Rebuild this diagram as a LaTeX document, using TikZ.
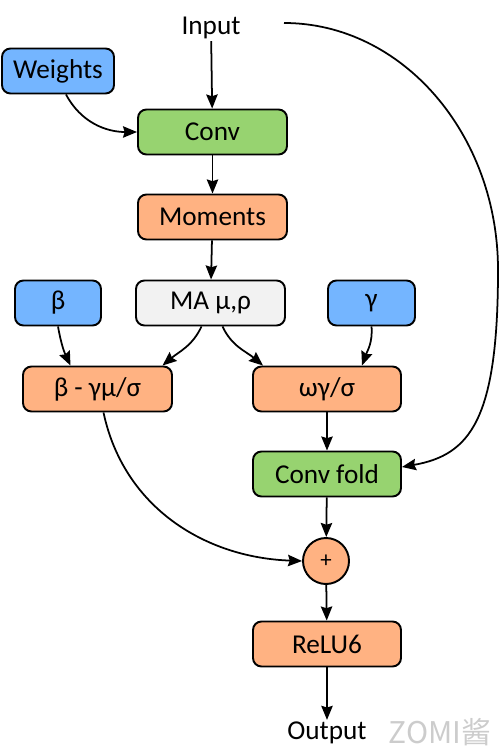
\documentclass[tikz,border=0pt]{standalone}
\usepackage{fontspec}
\setmainfont{Carlito}
\newfontfamily\cjk{Noto Sans CJK SC}
\usetikzlibrary{arrows.meta,calc}

\definecolor{wblue}{RGB}{116,181,255}
\definecolor{cgreen}{RGB}{151,211,112}
\definecolor{mpeach}{RGB}{255,178,130}
\definecolor{mgray}{RGB}{242,242,242}

\begin{document}
\begin{tikzpicture}

\tikzset{
    box/.style={draw,line width=1.1pt,rounded corners=0.17cm,minimum width=#1,
        minimum height=0.9cm,inner sep=0pt,font=\fontsize{15.5}{18}\selectfont},
    box/.default=2.98cm,
    arr/.style={-{Stealth[length=8pt,width=6.5pt,inset=1pt]},line width=1pt},
    lbl/.style={inner sep=1pt,font=\fontsize{15.5}{18}\selectfont}}

\useasboundingbox (0,0) rectangle (10,-15.08);

\node[lbl] (input) at (4.22,-0.56) {Input};
\coordinate (skip) at (5.68,-0.46);
\node[box=2.24cm, fill=wblue] (weights) at (1.16,-1.42) {Weights};
\node[box, fill=cgreen] (conv) at (4.25,-2.64) {Conv};
\node[box, fill=mpeach] (moments) at (4.25,-4.34) {Moments};
\node[box=1.72cm, fill=wblue] (beta) at (1.16,-6.06) {β};
\node[box, fill=mgray] (ma) at (4.21,-6.06) {MA μ,ρ};
\node[box=1.74cm, fill=wblue] (gamma) at (7.43,-6.06) {γ};
\node[box, fill=mpeach] (bias) at (1.95,-7.78) {β - γμ/σ};
\node[box=2.96cm, fill=mpeach] (scale) at (6.54,-7.78) {ωγ/σ};
\node[box=2.96cm, fill=cgreen] (fold) at (6.54,-9.48) {Conv fold};
\node[circle, draw, line width=1.1pt, fill=mpeach, minimum size=0.92cm, inner sep=0pt,
    font=\fontsize{13}{15}\selectfont] (plus) at (6.52,-11.22) {+};
\node[box=2.96cm, fill=mpeach] (relu) at (6.54,-12.88) {ReLU6};
\node[lbl] (output) at (6.54,-14.66) {Output};
\node[text=black!20, font=\cjk\fontsize{17}{20}\selectfont] (mark) at (8.8,-14.64) {ZOMI酱};

\draw[arr] (input) -- (conv);
\draw[arr] ([xshift=0.16cm]weights.south) to[out=-62,in=180] (conv.west);
\draw[arr] (conv) -- (moments);
\draw[arr] (moments) -- (ma);
\draw[arr] (beta.south) to[out=-80,in=115] ([xshift=-0.54cm]bias.north);
\draw[arr] ([xshift=-0.18cm]ma.south) to[out=-115,in=40] ([xshift=1.3cm]bias.north);
\draw[arr] ([xshift=0.24cm]ma.south) to[out=-65,in=140] ([xshift=-1.28cm]scale.north);
\draw[arr] (gamma.south) to[out=-85,in=70] ([xshift=0.7cm]scale.north);
\draw[arr] (scale) -- (fold);
\draw[arr] (skip) .. controls (8.04,-0.46) and (9.96,-2.68) .. (9.96,-5.4)
    .. controls (9.96,-8.4) and (9.4,-9.1) .. ([yshift=0.14cm]fold.east);
\draw[arr] ([xshift=0.12cm]bias.south) to[out=-78,in=178] (plus.west);
\draw[arr] (fold) -- (plus);
\draw[arr] (plus) -- (relu);
\draw[arr] (relu) -- (output);

\end{tikzpicture}
\end{document}
